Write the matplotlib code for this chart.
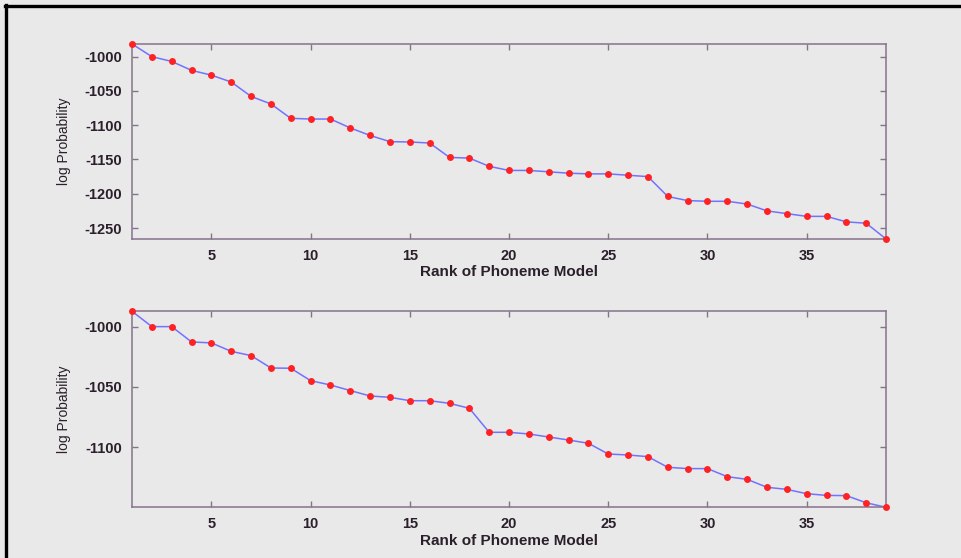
import numpy as np
import matplotlib
matplotlib.use("Agg")
import matplotlib.pyplot as plt
from matplotlib.lines import Line2D

rank = np.arange(1, 40)

# log probability per ranked phoneme model, upper and lower panels
logp_top = [-981.5, -1000, -1007, -1020, -1027, -1037, -1058, -1069, -1090, -1091,
            -1091, -1104, -1115, -1124, -1124.5, -1126, -1147, -1148, -1160, -1166,
            -1166, -1168, -1170, -1171, -1171, -1173, -1175, -1204, -1210, -1211,
            -1211, -1215, -1225, -1229, -1233, -1233, -1241, -1243, -1266]
logp_bot = [-987.3, -1000, -1000, -1012.7, -1013.5, -1020.5, -1024, -1034.3, -1034.5, -1044.8,
            -1048.4, -1053, -1057.5, -1058.6, -1061.4, -1061.4, -1063.6, -1067.7, -1087.6, -1087.6,
            -1089, -1091.5, -1094, -1096.7, -1105.6, -1106.4, -1107.8, -1116.6, -1117.7, -1117.7,
            -1124.4, -1126.6, -1133.2, -1134.9, -1138.5, -1139.9, -1140.1, -1146, -1149.8]

xticks = [5, 10, 15, 20, 25, 30, 35]
yticks_top = [-1000, -1050, -1100, -1150, -1200, -1250]
yticks_bot = [-1000, -1050, -1100]

bg = '#e9e9e9'
spine = '#85738a'
txt = '#2a1f2a'

plt.rcParams['font.family'] = ['Liberation Sans', 'DejaVu Sans']
plt.rcParams['axes.unicode_minus'] = False

fig = plt.figure(figsize=(9.61, 5.58), dpi=100, facecolor=bg)

ax0 = fig.add_axes([0.1374, 0.5717, 0.7846, 0.3495])
ax1 = fig.add_axes([0.1374, 0.0908, 0.7846, 0.3513])

for ax, y, yt in [(ax0, logp_top, yticks_top), (ax1, logp_bot, yticks_bot)]:
    ax.set_facecolor(bg)
    ax.plot(rank, y, '-', color='#7272ff', lw=1.1, zorder=2)
    ax.plot(rank, y, 'o', color='#ff2222', ms=5, mec='none', zorder=3, clip_on=False)
    ax.set_xlim(1, 39)
    ax.set_ylim(min(y), max(y))
    ax.set_xticks(xticks)
    ax.set_yticks(yt)
    ax.tick_params(direction='in', length=4, width=1, color=spine, top=True, right=True,
                   labelsize=10.5, labelcolor=txt, pad=7)
    for lab in ax.get_xticklabels() + ax.get_yticklabels():
        lab.set_fontweight('bold')
    for s in ax.spines.values():
        s.set_color(spine)
        s.set_linewidth(1.1)
    ax.set_xlabel('Rank of Phoneme Model', fontsize=11, fontweight='bold', color=txt, labelpad=2)
    ax.set_ylabel('log Probability', fontsize=10, color=txt, labelpad=10)

# frame lines along top and left edge of the picture
fig.add_artist(Line2D([0.005, 1.0], [0.989, 0.989], color='black', lw=2.4, transform=fig.transFigure))
fig.add_artist(Line2D([0.0065, 0.0065], [0.0, 0.991], color='black', lw=2.4, transform=fig.transFigure))

fig.savefig('out.png', dpi=100, facecolor=bg)
